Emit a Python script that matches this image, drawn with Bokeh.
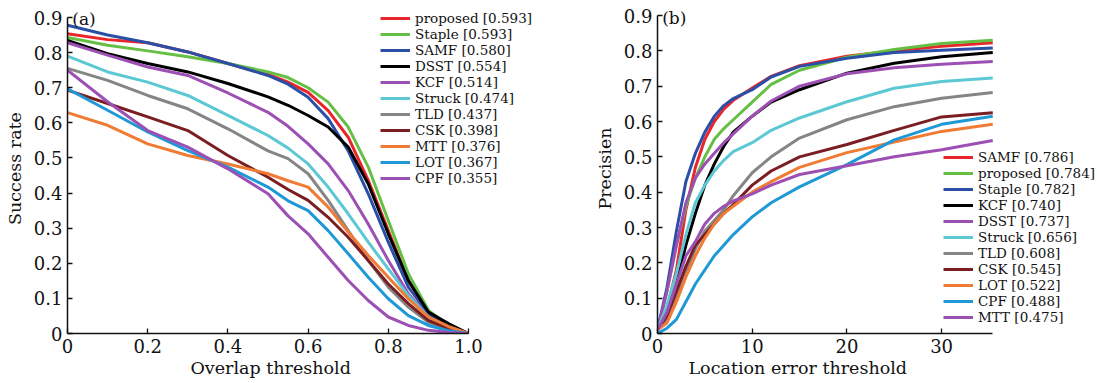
from bokeh.plotting import figure
from bokeh.models import Range1d, FixedTicker, Legend, LegendItem, Label, Title
from bokeh.layouts import row
from bokeh.embed import file_html
from bokeh.resources import INLINE

FONT = "DejaVu Serif"

# ---------------- Panel (a): success plot ----------------
overlap_x = [0, 0.1, 0.2, 0.3, 0.4, 0.5, 0.55, 0.6, 0.65, 0.7, 0.75, 0.8, 0.85, 0.9, 0.95, 1.0]
a_proposed = [0.854, 0.837, 0.828, 0.802, 0.769, 0.738, 0.716, 0.687, 0.635, 0.559, 0.436, 0.293, 0.151, 0.060, 0.020, 0.0]
a_staple   = [0.843, 0.821, 0.805, 0.788, 0.769, 0.745, 0.729, 0.700, 0.659, 0.588, 0.474, 0.322, 0.170, 0.066, 0.023, 0.0]
a_samf     = [0.878, 0.850, 0.828, 0.802, 0.769, 0.735, 0.710, 0.673, 0.612, 0.520, 0.398, 0.260, 0.132, 0.056, 0.020, 0.0]
a_dsst     = [0.835, 0.797, 0.769, 0.745, 0.712, 0.674, 0.650, 0.621, 0.588, 0.531, 0.426, 0.284, 0.151, 0.061, 0.028, 0.0]
a_kcf      = [0.828, 0.793, 0.759, 0.735, 0.685, 0.630, 0.590, 0.540, 0.483, 0.407, 0.312, 0.208, 0.113, 0.047, 0.015, 0.0]
a_struck   = [0.790, 0.745, 0.716, 0.678, 0.621, 0.564, 0.528, 0.483, 0.417, 0.341, 0.260, 0.184, 0.108, 0.047, 0.015, 0.0]
a_tld      = [0.755, 0.721, 0.678, 0.640, 0.583, 0.520, 0.498, 0.455, 0.379, 0.293, 0.208, 0.132, 0.075, 0.032, 0.010, 0.0]
a_csk      = [0.693, 0.655, 0.617, 0.578, 0.507, 0.445, 0.410, 0.379, 0.331, 0.274, 0.208, 0.141, 0.085, 0.037, 0.015, 0.0]
a_mtt      = [0.629, 0.593, 0.540, 0.507, 0.483, 0.455, 0.435, 0.417, 0.360, 0.289, 0.222, 0.160, 0.099, 0.047, 0.020, 0.0]
a_lot      = [0.697, 0.636, 0.574, 0.521, 0.474, 0.417, 0.378, 0.350, 0.293, 0.227, 0.160, 0.099, 0.051, 0.023, 0.008, 0.0]
a_cpf      = [0.750, 0.660, 0.578, 0.531, 0.469, 0.398, 0.335, 0.284, 0.217, 0.151, 0.094, 0.047, 0.023, 0.009, 0.003, 0.0]
a_labels = ["proposed [0.593]", "Staple [0.593]", "SAMF [0.580]", "DSST [0.554]", "KCF [0.514]",
            "Struck [0.474]", "TLD [0.437]", "CSK [0.398]", "MTT [0.376]", "LOT [0.367]", "CPF [0.355]"]
a_series = [a_proposed, a_staple, a_samf, a_dsst, a_kcf, a_struck, a_tld, a_csk, a_mtt, a_lot, a_cpf]
a_xticks = [0, 0.2, 0.4, 0.6, 0.8, 1.0]
a_yticks = [0, 0.1, 0.2, 0.3, 0.4, 0.5, 0.6, 0.7, 0.8, 0.9]

# ---------------- Panel (b): precision plot ----------------
loc_x = [0, 1, 2, 3, 4, 5, 6, 7, 8, 10, 12, 15, 20, 25, 30, 35.4]
b_samf     = [0.01, 0.07, 0.18, 0.35, 0.47, 0.55, 0.60, 0.635, 0.66, 0.695, 0.728, 0.758, 0.785, 0.800, 0.813, 0.823]
b_proposed = [0.01, 0.12, 0.25, 0.36, 0.44, 0.50, 0.55, 0.58, 0.605, 0.655, 0.705, 0.745, 0.782, 0.804, 0.821, 0.830]
b_staple   = [0.01, 0.13, 0.29, 0.43, 0.51, 0.57, 0.615, 0.645, 0.665, 0.690, 0.726, 0.756, 0.779, 0.795, 0.802, 0.808]
b_kcf      = [0.01, 0.06, 0.14, 0.25, 0.34, 0.42, 0.48, 0.53, 0.57, 0.615, 0.655, 0.690, 0.737, 0.765, 0.783, 0.795]
b_dsst     = [0.01, 0.12, 0.25, 0.37, 0.44, 0.48, 0.51, 0.54, 0.565, 0.615, 0.658, 0.700, 0.735, 0.752, 0.762, 0.770]
b_struck   = [0.01, 0.08, 0.17, 0.28, 0.37, 0.42, 0.46, 0.49, 0.515, 0.540, 0.575, 0.610, 0.656, 0.694, 0.713, 0.723]
b_tld      = [0.01, 0.04, 0.10, 0.17, 0.24, 0.29, 0.32, 0.35, 0.39, 0.455, 0.500, 0.553, 0.605, 0.642, 0.666, 0.682]
b_csk      = [0.01, 0.05, 0.12, 0.19, 0.25, 0.28, 0.31, 0.34, 0.365, 0.420, 0.460, 0.500, 0.535, 0.575, 0.613, 0.625]
b_lot      = [0.01, 0.03, 0.09, 0.16, 0.22, 0.27, 0.31, 0.34, 0.36, 0.400, 0.430, 0.470, 0.512, 0.542, 0.572, 0.592]
b_cpf      = [0.0, 0.015, 0.04, 0.09, 0.14, 0.18, 0.22, 0.25, 0.28, 0.330, 0.370, 0.415, 0.478, 0.548, 0.592, 0.615]
b_mtt      = [0.01, 0.06, 0.14, 0.22, 0.26, 0.31, 0.34, 0.36, 0.375, 0.395, 0.420, 0.450, 0.475, 0.500, 0.520, 0.546]
b_labels = ["SAMF [0.786]", "proposed [0.784]", "Staple [0.782]", "KCF [0.740]", "DSST [0.737]",
            "Struck [0.656]", "TLD [0.608]", "CSK [0.545]", "LOT [0.522]", "CPF [0.488]", "MTT [0.475]"]
b_series = [b_samf, b_proposed, b_staple, b_kcf, b_dsst, b_struck, b_tld, b_csk, b_lot, b_cpf, b_mtt]
b_xticks = [0, 10, 20, 30]
b_yticks = [0, 0.1, 0.2, 0.3, 0.4, 0.5, 0.6, 0.7, 0.8, 0.9]

colors = ["#e8252a", "#66bf45", "#2b4fa6", "#000000", "#9d50b4", "#5cc8d4",
          "#858585", "#7a1e22", "#f07b35", "#1f98d6", "#9d50b4"]


def make_fig(width, left, right, top, bottom, xr, yr, xb, yb, xticks, yticks,
             xlabel, xlabel_offset, ylabel, xover, yover):
    p = figure(width=width, height=383, x_range=Range1d(*xr), y_range=Range1d(*yr),
               output_backend="svg", toolbar_location=None,
               min_border_left=left, min_border_right=right,
               min_border_top=top, min_border_bottom=bottom)
    p.outline_line_color = None
    p.xgrid.visible = False
    p.ygrid.visible = False
    p.xaxis.ticker = FixedTicker(ticks=xticks)
    p.yaxis.ticker = FixedTicker(ticks=yticks)
    p.xaxis.bounds = xb
    p.yaxis.bounds = yb
    p.xaxis.major_label_overrides = xover
    p.yaxis.major_label_overrides = yover
    p.yaxis.axis_label = ylabel
    for ax in (p.xaxis[0], p.yaxis[0]):
        ax.axis_line_width = 1.5
        ax.axis_line_color = "#111111"
        ax.major_tick_in = 5
        ax.major_tick_out = 0
        ax.major_tick_line_width = 1.3
        ax.major_tick_line_color = "#111111"
        ax.minor_tick_in = 0
        ax.minor_tick_out = 0
        ax.major_label_text_font = FONT
        ax.major_label_text_font_size = "18px"
        ax.major_label_text_color = "#111111"
        ax.axis_label_text_font = FONT
        ax.axis_label_text_font_size = "17.5px"
        ax.axis_label_text_font_style = "normal"
        ax.axis_label_text_color = "#111111"
        ax.major_label_standoff = 5
        ax.axis_label_standoff = 6
    p.add_layout(Title(text=xlabel, align="left", offset=xlabel_offset, standoff=0,
                       text_font=FONT, text_font_size="17.5px", text_font_style="normal",
                       text_color="#111111"), "below")
    return p


pa = make_fig(570, 67, 25, 3, 50, (0, 1.192), (0, 0.9399), (0, 1.0), (0, 0.9),
              a_xticks, a_yticks, "Overlap threshold", 123, "Success rate",
              {0: "0", 1: "1.0"}, {0: "0"})
pb = make_fig(527, 87, 2, 3, 49, (0, 46.25), (0, 0.934), (0, 35.4), (0, 0.9),
              b_xticks, b_yticks, "Location error threshold", 31, "Precisien",
              {0: "0"}, {0: "0"})


def add_lines(p, xs, series, labels, loc):
    items = []
    for ys, lab, col in zip(series, labels, colors):
        r = p.line(xs, ys, line_color=col, line_width=3, line_join="round")
        items.append(LegendItem(label=lab, renderers=[r]))
    leg = Legend(items=items, location=loc, padding=0, margin=0, spacing=0,
                 glyph_width=30, glyph_height=16, label_height=16, label_standoff=5,
                 label_text_font=FONT, label_text_font_size="13.5px", label_text_color="#111111",
                 background_fill_alpha=0, border_line_alpha=0)
    p.add_layout(leg, "center")


add_lines(pa, overlap_x, a_series, a_labels, (313, 147))
add_lines(pb, loc_x, b_series, b_labels, (286, 8))

pa.add_layout(Label(x=0.012, y=0.897, text="(a)", text_font=FONT, text_font_size="17px",
                    text_baseline="middle", text_color="#111111"))
pb.add_layout(Label(x=0.5, y=0.893, text="(b)", text_font=FONT, text_font_size="17px",
                    text_baseline="middle", text_color="#111111"))

layout = row(pa, pb)
open("out.html", "w").write(file_html(layout, INLINE))
